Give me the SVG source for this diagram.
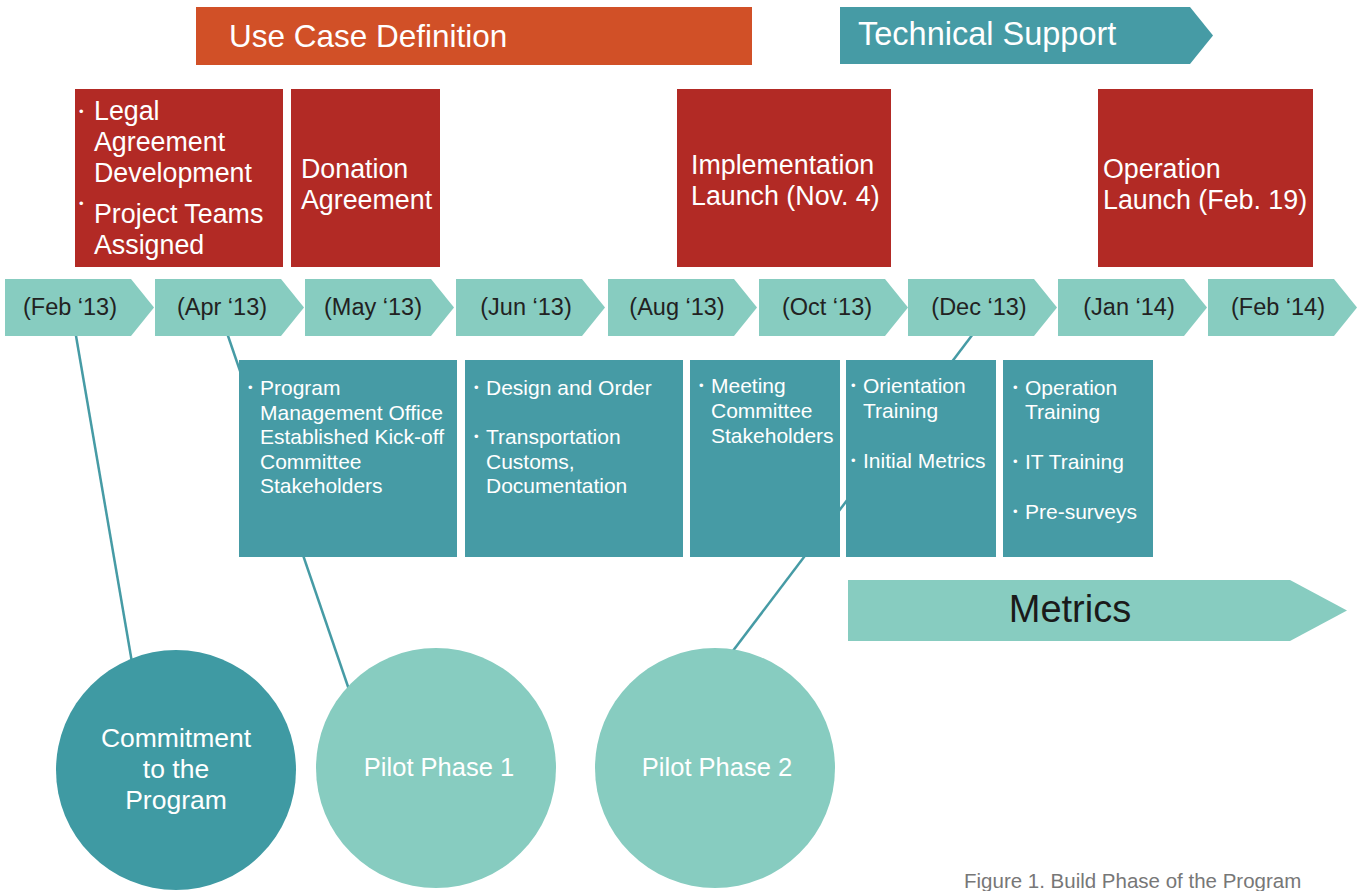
<svg xmlns="http://www.w3.org/2000/svg" width="1363" height="891" viewBox="0 0 1363 891">
<style>
text{font-family:"Liberation Sans",Arial,sans-serif}
.chev{fill:#87CCC0}
.chevt{font-size:23.5px;fill:#222;text-anchor:middle}
.red{fill:#B22A25}
.redt{font-size:26.8px;fill:#fff}
.teal{fill:#469BA5}
.tealt{font-size:21px;fill:#fff}
.b{font-size:13px;fill:#fff}
.conn{stroke:#469BA5;stroke-width:2.5;fill:none}
.circt{font-size:26.5px;fill:#fff;text-anchor:middle}
.circp{font-size:25.5px;fill:#fff;text-anchor:middle}
</style>
<defs>
<path id="chv" d="M0,0 H126 L149,28.5 L126,57 H0 Z"/>
</defs>
<rect width="1363" height="891" fill="#fff"/>
<g id="connectors">
<line class="conn" x1="75" y1="330" x2="135" y2="680"/>
<line class="conn" x1="226" y1="330" x2="356" y2="710"/>
<line class="conn" x1="976" y1="330" x2="726" y2="660"/>
</g>
<g id="use-case"><rect x="196" y="7" width="556" height="58" fill="#D15027"/><text x="229" y="47" font-size="31.5" fill="#fff">Use Case Definition</text></g>
<g id="tech-support"><path d="M840,7 H1190 L1213,35.5 L1190,64 H840 Z" class="teal"/><text x="858" y="45" font-size="32.5" fill="#fff">Technical Support</text></g>
<g id="box-legal"><rect class="red" x="75" y="89" width="208" height="178"/>
<text class="b" x="79" y="116">•</text>
<text class="redt" x="94" y="120">Legal</text>
<text class="redt" x="94" y="151">Agreement</text>
<text class="redt" x="94" y="182">Development</text>
<text class="b" x="79" y="208">•</text>
<text class="redt" x="94" y="223">Project Teams</text>
<text class="redt" x="94" y="254">Assigned</text>
</g>
<g id="box-donation"><rect class="red" x="291" y="89" width="149" height="178"/>
<text class="redt" x="301" y="178">Donation</text><text class="redt" x="301" y="209">Agreement</text></g>
<g id="box-impl"><rect class="red" x="677" y="89" width="214" height="178"/>
<text class="redt" x="691" y="174">Implementation</text><text class="redt" x="691" y="205">Launch (Nov. 4)</text></g>
<g id="box-oper"><rect class="red" x="1098" y="89" width="215" height="178"/>
<text class="redt" x="1103" y="178">Operation</text><text class="redt" x="1103" y="209">Launch (Feb. 19)</text></g>
<g id="chevrons">
<g id="c1"><use href="#chv" class="chev" x="5" y="279"/><text class="chevt" x="70" y="315">(Feb ‘13)</text></g>
<g id="c2"><use href="#chv" class="chev" x="155" y="279"/><text class="chevt" x="222" y="315">(Apr ‘13)</text></g>
<g id="c3"><use href="#chv" class="chev" x="305" y="279"/><text class="chevt" x="373" y="315">(May ‘13)</text></g>
<g id="c4"><use href="#chv" class="chev" x="456" y="279"/><text class="chevt" x="526" y="315">(Jun ‘13)</text></g>
<g id="c5"><use href="#chv" class="chev" x="608" y="279"/><text class="chevt" x="677" y="315">(Aug ‘13)</text></g>
<g id="c6"><use href="#chv" class="chev" x="759" y="279"/><text class="chevt" x="827" y="315">(Oct ‘13)</text></g>
<g id="c7"><use href="#chv" class="chev" x="908" y="279"/><text class="chevt" x="979" y="315">(Dec ‘13)</text></g>
<g id="c8"><use href="#chv" class="chev" x="1058" y="279"/><text class="chevt" x="1129" y="315">(Jan ‘14)</text></g>
<g id="c9"><use href="#chv" class="chev" x="1208" y="279"/><text class="chevt" x="1278" y="315">(Feb ‘14)</text></g>
</g>
<g id="box-pmo"><rect class="teal" x="239" y="360" width="218" height="197"/>
<text class="b" x="248" y="392">•</text>
<text class="tealt" x="260" y="395">Program</text>
<text class="tealt" x="260" y="420">Management Office</text>
<text class="tealt" x="260" y="444">Established Kick-off</text>
<text class="tealt" x="260" y="469">Committee</text>
<text class="tealt" x="260" y="493">Stakeholders</text>
</g>
<g id="box-design"><rect class="teal" x="465" y="360" width="218" height="197"/>
<text class="b" x="474" y="392">•</text>
<text class="tealt" x="486" y="395">Design and Order</text>
<text class="b" x="474" y="441">•</text>
<text class="tealt" x="486" y="444">Transportation</text>
<text class="tealt" x="486" y="469">Customs,</text>
<text class="tealt" x="486" y="493">Documentation</text>
</g>
<g id="box-meeting"><rect class="teal" x="690" y="360" width="150" height="197"/>
<text class="b" x="699" y="390">•</text>
<text class="tealt" x="711" y="393">Meeting</text>
<text class="tealt" x="711" y="418">Committee</text>
<text class="tealt" x="711" y="443">Stakeholders</text>
</g>
<g id="box-orient"><rect class="teal" x="846" y="360" width="150" height="197"/>
<text class="b" x="851" y="390">•</text>
<text class="tealt" x="863" y="393">Orientation</text>
<text class="tealt" x="863" y="418">Training</text>
<text class="b" x="851" y="465">•</text>
<text class="tealt" x="863" y="468">Initial Metrics</text>
</g>
<g id="box-operation"><rect class="teal" x="1003" y="360" width="150" height="197"/>
<text class="b" x="1013" y="392">•</text>
<text class="tealt" x="1025" y="395">Operation</text>
<text class="tealt" x="1025" y="419">Training</text>
<text class="b" x="1013" y="466">•</text>
<text class="tealt" x="1025" y="469">IT Training</text>
<text class="b" x="1013" y="516">•</text>
<text class="tealt" x="1025" y="519">Pre-surveys</text>
</g>
<g id="metrics"><path d="M848,580 H1290 L1347,610.5 L1290,641 H848 Z" fill="#87CCC0"/><text x="1070" y="622" font-size="38" fill="#1a1a1a" text-anchor="middle">Metrics</text></g>
<g id="circle-commitment"><circle cx="176" cy="770" r="120" fill="#3F9AA3"/>
<text class="circt" x="176" y="747">Commitment</text><text class="circt" x="176" y="778">to the</text><text class="circt" x="176" y="809">Program</text></g>
<g id="circle-pilot1"><circle cx="436" cy="768" r="120" fill="#87CCC0"/><text class="circp" x="439" y="776">Pilot Phase 1</text></g>
<g id="circle-pilot2"><circle cx="715" cy="768" r="120" fill="#87CCC0"/><text class="circp" x="717" y="776">Pilot Phase 2</text></g>
<text x="964" y="888" font-size="20.5" fill="#777">Figure 1. Build Phase of the Program</text>
</svg>
